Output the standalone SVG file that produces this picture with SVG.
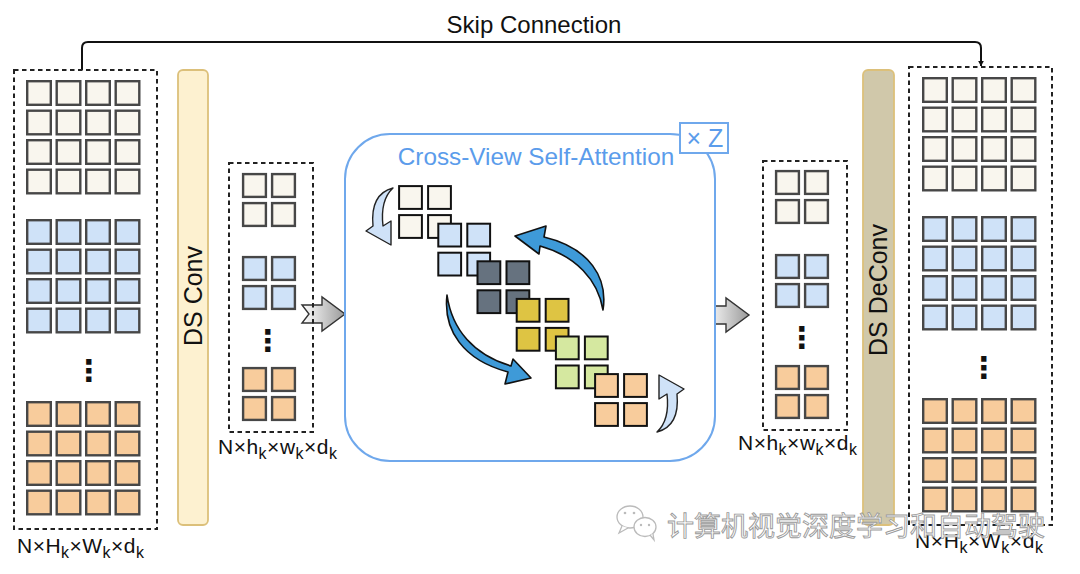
<svg xmlns="http://www.w3.org/2000/svg" xmlns:xlink="http://www.w3.org/1999/xlink" width="1080" height="574" viewBox="0 0 1080 574">
<style>
.t{font-family:"Liberation Sans",Arial,sans-serif;fill:#111}
.dash{fill:none;stroke:#222;stroke-width:2;stroke-dasharray:4.5 3.5}
.blue{fill:#5B9CEB}
.sc{stroke:#474747;stroke-width:2.4}
.ic{stroke:#111;stroke-width:2}
.dots{font-family:"DejaVu Sans",sans-serif;font-weight:bold;font-size:30px;fill:#111}
.lb{stroke:#222;stroke-width:1.4;fill:#CFE2F8;stroke-linejoin:round}
.db{stroke:#111;stroke-width:1.6;fill:#3E9AD8;stroke-linejoin:round}
.ga{stroke:#333;stroke-width:1.4;fill:url(#gg);stroke-linejoin:miter}
</style>
<defs>
<linearGradient id="gg" x1="0" y1="0" x2="1" y2="0">
<stop offset="0" stop-color="#ffffff"/><stop offset="1" stop-color="#9a9a9a"/>
</linearGradient>
<marker id="ah" viewBox="0 0 10 10" refX="9" refY="5" markerWidth="6" markerHeight="6" orient="auto" markerUnits="userSpaceOnUse">
<path d="M0,0 L10,5 L0,10 Z" fill="#111"/>
</marker>
<g id="g4">
<rect x="1.2" y="1.2" width="23.6" height="23.6"/><rect x="30.7" y="1.2" width="23.6" height="23.6"/><rect x="60.2" y="1.2" width="23.6" height="23.6"/><rect x="89.7" y="1.2" width="23.6" height="23.6"/>
<rect x="1.2" y="30.7" width="23.6" height="23.6"/><rect x="30.7" y="30.7" width="23.6" height="23.6"/><rect x="60.2" y="30.7" width="23.6" height="23.6"/><rect x="89.7" y="30.7" width="23.6" height="23.6"/>
<rect x="1.2" y="60.2" width="23.6" height="23.6"/><rect x="30.7" y="60.2" width="23.6" height="23.6"/><rect x="60.2" y="60.2" width="23.6" height="23.6"/><rect x="89.7" y="60.2" width="23.6" height="23.6"/>
<rect x="1.2" y="89.7" width="23.6" height="23.6"/><rect x="30.7" y="89.7" width="23.6" height="23.6"/><rect x="60.2" y="89.7" width="23.6" height="23.6"/><rect x="89.7" y="89.7" width="23.6" height="23.6"/>
</g>
<g id="g2">
<rect x="1.1" y="1.1" width="22.8" height="22.8"/><rect x="30.1" y="1.1" width="22.8" height="22.8"/>
<rect x="1.1" y="30.1" width="22.8" height="22.8"/><rect x="30.1" y="30.1" width="22.8" height="22.8"/>
</g>
<path id="curl" d="M393,188 Q370,194 373,226 L366,231 L391,245 L391,221 L383,226 Q380,200 393,188 Z"/>
<path id="garrow" d="M0,-9 L20,-9 L20,-17 L43,0 L20,17 L20,9 L0,9 L7,0 Z"/>
</defs>
<rect width="1080" height="574" fill="#fff"/>

<g id="connectors">
<path d="M82,70 V48 Q82,42 88,42 H975 Q981,42 981,48 V66" fill="none" stroke="#111" stroke-width="2" marker-end="url(#ah)"/>
<text class="t" x="534" y="33" font-size="24" text-anchor="middle">Skip Connection</text>
<use xlink:href="#garrow" class="ga" transform="translate(302,314)"/>
<use xlink:href="#garrow" class="ga" transform="translate(706,315)"/>
</g>

<g id="input-features">
<rect class="dash" x="14" y="70" width="143" height="459"/>
<use xlink:href="#g4" x="26" y="80" fill="#F9F6EE" class="sc"/>
<use xlink:href="#g4" x="26" y="219" fill="#CFE2F8" class="sc"/>
<text class="dots" x="89" y="381" text-anchor="middle">⋮</text>
<use xlink:href="#g4" x="26" y="401" fill="#F8CC9C" class="sc"/>
<text class="t" x="17" y="553" font-size="21" textLength="127" lengthAdjust="spacing">N×H<tspan font-size="16" dy="5">k</tspan><tspan dy="-5">×W</tspan><tspan font-size="16" dy="5">k</tspan><tspan dy="-5">×d</tspan><tspan font-size="16" dy="5">k</tspan></text>
</g>

<g id="ds-conv">
<rect x="178" y="70" width="30" height="455" rx="5" fill="#FDF1D0" stroke="#DCC07A" stroke-width="1.8"/>
<text class="t" transform="translate(202,296) rotate(-90)" font-size="25" text-anchor="middle">DS Conv</text>
</g>

<g id="down-features">
<rect class="dash" x="229" y="163" width="84" height="269"/>
<use xlink:href="#g2" x="242" y="173" fill="#F9F6EE" class="sc"/>
<use xlink:href="#g2" x="242" y="256" fill="#CFE2F8" class="sc"/>
<text class="dots" x="268" y="351" text-anchor="middle">⋮</text>
<use xlink:href="#g2" x="242" y="367" fill="#F8CC9C" class="sc"/>
<text class="t" x="218" y="454" font-size="21" textLength="119" lengthAdjust="spacing">N×h<tspan font-size="16" dy="5">k</tspan><tspan dy="-5">×w</tspan><tspan font-size="16" dy="5">k</tspan><tspan dy="-5">×d</tspan><tspan font-size="16" dy="5">k</tspan></text>
</g>

<g id="cross-view-attention">
<rect x="345" y="134" width="370" height="327" rx="45" fill="#fff" stroke="#6FA8EC" stroke-width="2"/>
<rect x="680" y="123" width="48" height="30" fill="#fff" stroke="#6FA8EC" stroke-width="2"/>
<text class="blue" x="705" y="147" font-family="Liberation Sans,Arial,sans-serif" font-size="25" text-anchor="middle">× Z</text>
<text class="blue" x="536" y="165" font-family="Liberation Sans,Arial,sans-serif" font-size="24.3" text-anchor="middle">Cross-View Self-Attention</text>
<use xlink:href="#curl" class="lb"/>
<use xlink:href="#g2" x="398" y="185" fill="#F9F6EE" class="ic"/>
<use xlink:href="#g2" x="437.2" y="222.6" fill="#CFE2F8" class="ic"/>
<use xlink:href="#g2" x="476.4" y="260.2" fill="#66727F" class="ic"/>
<use xlink:href="#g2" x="515.6" y="297.8" fill="#DEC443" class="ic"/>
<use xlink:href="#g2" x="554.8" y="335.4" fill="#D5E8A0" class="ic"/>
<use xlink:href="#g2" x="594" y="373" fill="#F8CC9C" class="ic"/>
<path class="db" d="M603,310 C608,278 590,248 544,237 L546,226 L515,236 L539,254 L540,246 C576,256 598,280 603,310 Z"/>
<path class="db" d="M447,295 C443,330 463,360 508,372 L505,384 L531,378 L513,359 L511,366 C474,355 452,330 447,295 Z"/>
<use xlink:href="#curl" class="lb" transform="rotate(180 525 310)"/>
</g>

<g id="up-features">
<rect class="dash" x="763" y="161" width="84" height="269"/>
<use xlink:href="#g2" x="775" y="170" fill="#F9F6EE" class="sc"/>
<use xlink:href="#g2" x="775" y="254" fill="#CFE2F8" class="sc"/>
<text class="dots" x="802" y="348" text-anchor="middle">⋮</text>
<use xlink:href="#g2" x="775" y="365" fill="#F8CC9C" class="sc"/>
<text class="t" x="738" y="450" font-size="21" textLength="119" lengthAdjust="spacing">N×h<tspan font-size="16" dy="5">k</tspan><tspan dy="-5">×w</tspan><tspan font-size="16" dy="5">k</tspan><tspan dy="-5">×d</tspan><tspan font-size="16" dy="5">k</tspan></text>
</g>

<g id="ds-deconv">
<rect x="863" y="70" width="31" height="455" rx="5" fill="#D0C8AA" stroke="#DCC07A" stroke-width="1.8"/>
<text class="t" transform="translate(887,290) rotate(-90)" font-size="25" text-anchor="middle">DS DeConv</text>
</g>

<g id="output-features">
<rect class="dash" x="909" y="67" width="143" height="458"/>
<use xlink:href="#g4" x="922" y="77" fill="#F9F6EE" class="sc"/>
<use xlink:href="#g4" x="922" y="216" fill="#CFE2F8" class="sc"/>
<text class="dots" x="984" y="378" text-anchor="middle">⋮</text>
<use xlink:href="#g4" x="922" y="398" fill="#F8CC9C" class="sc"/>
<text class="t" x="915" y="548" font-size="21" textLength="128" lengthAdjust="spacing">N×H<tspan font-size="16" dy="5">k</tspan><tspan dy="-5">×W</tspan><tspan font-size="16" dy="5">k</tspan><tspan dy="-5">×d</tspan><tspan font-size="16" dy="5">k</tspan></text>
</g>

<g id="watermark">
<ellipse cx="630" cy="517" rx="13" ry="11" fill="#fff" stroke="#bbb" stroke-width="1.3"/>
<path d="M622,526 L619,533 L628,528" fill="#fff" stroke="#bbb" stroke-width="1.3"/>
<ellipse cx="645" cy="527" rx="11" ry="9.5" fill="#fff" stroke="#bbb" stroke-width="1.3"/>
<path d="M650,535 L654,540 L653,534" fill="#fff" stroke="#bbb" stroke-width="1.3"/>
<circle cx="625" cy="513" r="1.3" fill="#bbb"/><circle cx="634" cy="513" r="1.3" fill="#bbb"/>
<circle cx="641" cy="525" r="1.2" fill="#bbb"/><circle cx="649" cy="525" r="1.2" fill="#bbb"/>
<text x="667" y="536" font-family="Noto Sans CJK SC,sans-serif" font-size="27" fill="#fff" stroke="#9a9a9a" stroke-width="0.9">计算机视觉深度学习和自动驾驶</text>
</g>
</svg>
